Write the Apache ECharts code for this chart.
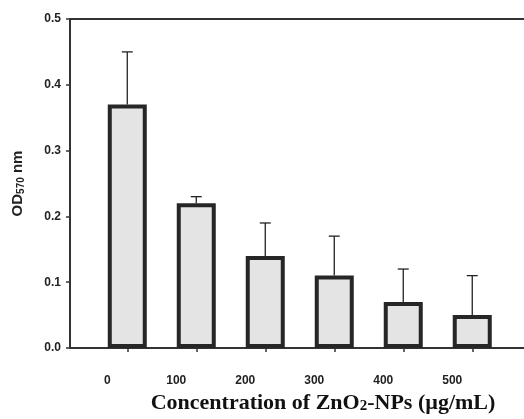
<!DOCTYPE html>
<html>
<head>
<meta charset="utf-8">
<script src="https://cdn.jsdelivr.net/npm/echarts@6/dist/echarts.min.js"></script>
<style>html,body{margin:0;padding:0;background:#fff;overflow:hidden;}#c{width:524px;height:419px;}</style>
</head>
<body>
<div id="c"></div>
<script>
var concentrations = [0, 100, 200, 300, 400, 500];
var odValues = [0.37, 0.22, 0.14, 0.11, 0.07, 0.05];
var odErrors = [0.08, 0.01, 0.05, 0.06, 0.05, 0.06];

var chart = echarts.init(document.getElementById('c'), null, {renderer: 'canvas', width: 524, height: 419});
var barData = concentrations.map(function (c, i) { return [c, odValues[i]]; });
var errData = concentrations.map(function (c, i) { return [c, odValues[i], odErrors[i]]; });

var axisColor = '#333';
chart.setOption({
  animation: false,
  backgroundColor: '#fff',
  grid: {left: 70, right: 0, top: 19, height: 335, containLabel: false},
  xAxis: [{
    type: 'value',
    min: -83, max: 575,
    splitLine: {show: false},
    axisLine: {show: true, onZero: false, lineStyle: {color: axisColor, width: 2}},
    axisTick: {show: true, customValues: concentrations, inside: false, length: 4, lineStyle: {color: axisColor, width: 1.5}},
    axisLabel: {
      customValues: concentrations,
      margin: 27,
      padding: [0, 40, 0, 0],
      fontFamily: 'Liberation Sans, Arial, sans-serif',
      fontWeight: 'bold', fontSize: 12, color: '#222'
    },
    name: '{a|Concentration of ZnO}{s|2}{a|-NPs (µg/mL)}',
    nameLocation: 'middle',
    nameGap: 44,
    nameTextStyle: {
      padding: [0, 0, 0, 52],
      rich: {
        a: {fontFamily: 'Liberation Serif, Times New Roman, serif', fontWeight: 'bold', fontSize: 22, color: '#111'},
        s: {fontFamily: 'Liberation Serif, Times New Roman, serif', fontWeight: 'bold', fontSize: 15, color: '#111', padding: [6, 0, 0, 0]}
      }
    }
  }, {
    type: 'value', position: 'top',
    min: -83, max: 575,
    splitLine: {show: false},
    axisLine: {show: true, onZero: false, lineStyle: {color: axisColor, width: 2}},
    axisTick: {show: false}, axisLabel: {show: false}
  }],
  yAxis: {
    type: 'value',
    min: 0, max: 0.5, interval: 0.1,
    splitLine: {show: false},
    axisLine: {show: true, onZero: false, lineStyle: {color: axisColor, width: 2}},
    axisTick: {show: true, length: 4, lineStyle: {color: axisColor, width: 1.5}},
    axisLabel: {
      margin: 9,
      formatter: function (v) { return v.toFixed(1); },
      fontFamily: 'Liberation Sans, Arial, sans-serif',
      fontWeight: 'bold', fontSize: 12, color: '#222'
    },
    name: '{a|OD}{s|570}{a| nm}',
    nameLocation: 'middle',
    nameGap: 44,
    nameRotate: 90,
    nameTextStyle: {
      rich: {
        a: {fontFamily: 'Liberation Sans, Arial, sans-serif', fontWeight: 'bold', fontSize: 15, color: '#222'},
        s: {fontFamily: 'Liberation Sans, Arial, sans-serif', fontWeight: 'bold', fontSize: 10, color: '#222', padding: [6, 0, 0, 0]}
      }
    }
  },
  series: [{
    type: 'custom',
    xAxisIndex: 0,
    data: errData,
    z: 1,
    renderItem: function (params, api) {
      var x = api.value(0), y = api.value(1), e = api.value(2);
      var p0 = api.coord([x, y]);
      var p1 = api.coord([x, y + e]);
      var st = {stroke: '#222', lineWidth: 1.3};
      return {type: 'group', children: [
        {type: 'line', shape: {x1: p0[0], y1: p0[1], x2: p1[0], y2: p1[1]}, style: st},
        {type: 'line', shape: {x1: p1[0] - 5.5, y1: p1[1], x2: p1[0] + 5.5, y2: p1[1]}, style: st}
      ]};
    }
  }, {
    type: 'bar',
    xAxisIndex: 0,
    data: barData,
    barWidth: 39,
    z: 2,
    itemStyle: {color: '#e4e4e4', borderColor: '#262626', borderWidth: 4}
  }]
});
</script>
</body>
</html>
